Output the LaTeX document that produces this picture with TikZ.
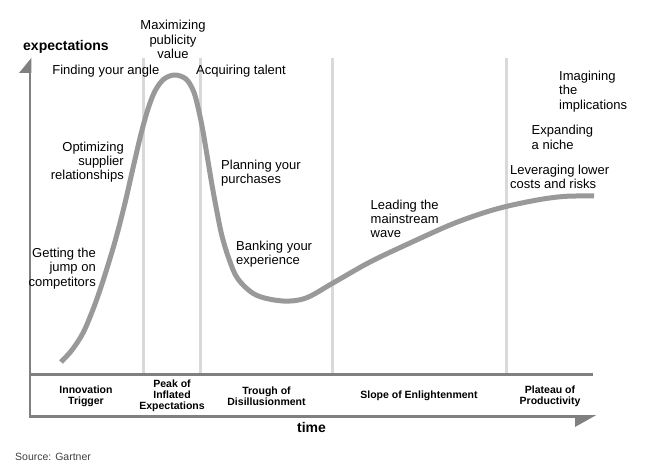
\documentclass[tikz,border=0pt]{standalone}
\usepackage{fontspec}
\setmainfont{Liberation Sans}

\begin{document}
\begin{tikzpicture}[x=1bp,y=-1bp,
    hype/.style={inner sep=0pt,font=\fontsize{13bp}{14.3bp}\selectfont},
    phase/.style={inner sep=0pt,align=center,font=\bfseries\fontsize{10.5bp}{11.2bp}\selectfont},
    axistitle/.style={inner sep=0pt,font=\bfseries\fontsize{14bp}{16bp}\selectfont},
    axisline/.style={draw=axisgray,line width=2.7bp},
    divider/.style={draw=divgray,line width=3bp}]
    \definecolor{axisgray}{RGB}{128,128,128}
    \definecolor{divgray}{RGB}{217,217,217}
    \definecolor{curvegray}{RGB}{153,153,153}
    \definecolor{notegray}{RGB}{64,64,64}
    % canvas
    \useasboundingbox (0,0) rectangle (648,471);
    % phase dividers
    \draw[divider] (143,58) -- (143,374);
    \draw[divider] (200.7,58) -- (200.7,374);
    \draw[divider] (332.7,58) -- (332.7,374);
    \draw[divider] (506,58) -- (506,374);
    % axes
    \draw[axisline] (30,62) -- (30,416.5) -- (580,416.5);
    \draw[axisline] (30,374.5) -- (593.3,374.5);
    \fill[axisgray] (31.3,58) -- (19,73) -- (31.3,73) -- cycle;
    \fill[axisgray] (575,415.2) -- (596,415.2) -- (575,427) -- cycle;
    % hype curve
    \draw[curvegray,line width=5bp] plot[smooth,tension=0.55] coordinates {
        (61,362) (72,350) (83,333) (92,312) (100,290) (108,265) (116,238)
        (125,203) (133,168) (141,134) (148,109) (155,91) (164,79) (175,75)
        (186,79) (193,90) (197,103) (202,126) (207,155) (212,185) (217,212)
        (222,236) (229,259) (238,279) (256,295) (283,301) (306,298) (333,283)
        (370,262) (410,243) (450,225) (480,214) (506,206.5) (540,199.5)
        (566,196.3) (594,196)};
    % axis titles
    \draw (23,46.5) node[axistitle,anchor=west] (expect) {expectations};
    \draw (311.5,427) node[axistitle] (time) {time};
    % annotations along the curve
    \draw (173,39.5) node[hype,align=center] (maximizing) {Maximizing\\publicity\\value};
    \draw (159.5,71) node[hype,anchor=east] (angle) {Finding your angle};
    \draw (196,71) node[hype,anchor=west] (talent) {Acquiring talent};
    \draw (124,162) node[hype,anchor=east,align=right] (optimizing) {Optimizing\\supplier\\relationships};
    \draw (221,173) node[hype,anchor=west,align=left] (planning) {Planning your\\purchases};
    \draw (96,268.5) node[hype,anchor=east,align=right] (getting) {Getting the\\jump on\\competitors};
    \draw (236,254) node[hype,anchor=west,align=left] (banking) {Banking your\\experience};
    \draw (370.5,219) node[hype,anchor=west,align=left] (leading) {Leading the\\mainstream\\wave};
    \draw (510,177) node[hype,anchor=west,align=left] (leveraging) {Leveraging lower\\costs and risks};
    \draw (531.5,137.5) node[hype,anchor=west,align=left] (expanding) {Expanding\\a niche};
    \draw (559,91.5) node[hype,anchor=west,align=left] (imagining) {Imagining\\the\\implications};
    % phase names
    \draw (86,396) node[phase] (trigger) {Innovation\\Trigger};
    \draw (172,395.5) node[phase] (peak) {Peak of\\Inflated\\Expectations};
    \draw (266.5,396) node[phase] (trough) {Trough of\\Disillusionment};
    \draw (419,396) node[phase] (slope) {Slope of Enlightenment};
    \draw (550,396) node[phase] (plateau) {Plateau of\\Productivity};
    % source
    \draw (15,456.5) node[inner sep=0pt,anchor=west,notegray,font=\fontsize{10.5bp}{12bp}\selectfont] (source) {Source: Gartner};
\end{tikzpicture}
\end{document}
